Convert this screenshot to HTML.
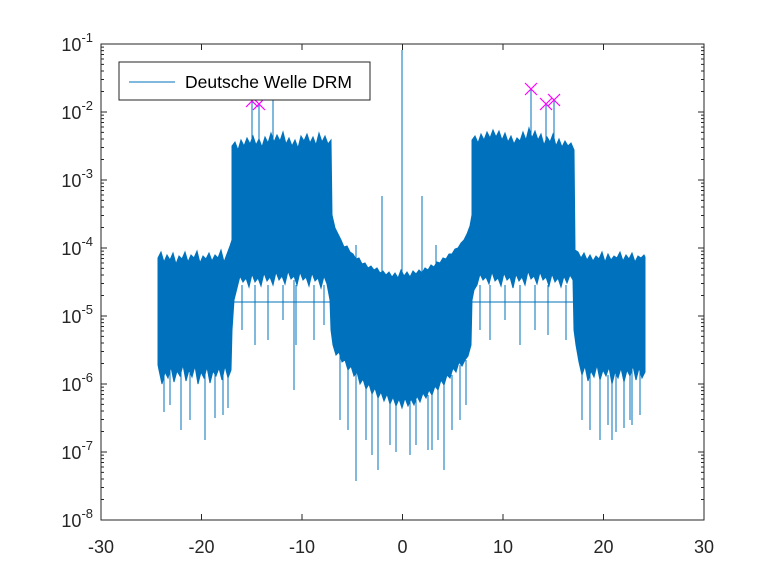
<!DOCTYPE html>
<html><head><meta charset="utf-8"><style>
html,body{margin:0;padding:0;background:#fff;width:778px;height:583px;overflow:hidden}
svg{display:block}
text{font-family:"Liberation Sans",sans-serif;fill:#262626}
</style></head><body>
<svg width="778" height="583" xmlns="http://www.w3.org/2000/svg">
<rect x="0" y="0" width="778" height="583" fill="#fff"/>
<polygon fill="#0072BD" stroke="#0072BD" stroke-width="1" points="
158,258 161,252 164,262 167,255 170,260 173,253 176,264 179,256 182,259 185,252 188,262 191,255 194,258 197,251 200,263 203,256 206,259 209,253 212,261 215,255 218,258 221,250 224,262 227,254 230,246 232,240
232,146 235,142 238,150 241,140 244,146 247,138 250,144 253,136 256,145 259,139 262,147 265,137 268,143 271,133 274,142 277,135 280,141 283,132 286,144 289,138 292,146 295,140 298,148 301,136 304,141 307,134 310,143 313,137 316,145 319,133 322,142 325,136 328,144 331,140
332,215 335,228 338,234 341,240 344,247 347,246 350,252 353,254 356,259 359,258 362,264 365,263 368,268 371,266 374,270 377,268 380,273 383,271 386,275 389,272 392,277 395,273 398,278 401,270 404,276 407,272 410,277 413,271 416,274 419,270 422,273 425,268 428,270 431,265 434,267 437,262 440,263 443,258 446,259 449,254 452,254 455,249 458,248 461,243 464,240 467,234 470,226 472,215
472,140 475,136 478,143 481,134 484,140 487,132 490,138 493,130 496,137 499,131 502,140 505,133 508,142 511,136 514,144 517,138 520,141 523,132 526,140 529,128 532,138 535,131 538,140 541,134 544,145 547,137 550,142 553,134 556,146 559,139 562,147 565,141 568,146 571,143 574,150
575,250 578,252 581,258 584,253 587,260 590,255 593,261 596,256 599,259 602,252 605,262 608,254 611,260 614,256 617,258 620,252 623,261 626,255 629,259 632,253 635,262 638,256 641,258 644,255 645,257
645,372 642,378 639,368 636,380 633,366 630,376 627,370 624,382 621,368 618,378 615,372 612,384 609,367 606,376 603,370 600,380 597,365 594,377 591,371 588,381 585,366 582,375 579,362 576,345 574,330
573,280 570,275 567,283 564,276 561,287 558,278 555,282 552,274 549,286 546,277 543,280 540,272 537,284 534,276 531,279 528,271 525,285 522,277 519,281 516,274 513,288 510,277 507,280 504,273 501,286 498,278 495,281 492,272 489,284 486,277 483,280 480,274 477,285 474,290 472,300
471,345 468,356 465,360 462,366 459,362 456,372 453,368 450,378 447,375 444,385 441,380 438,390 435,386 432,395 429,390 426,398 423,393 420,402 417,396 414,405 411,399 408,406 405,398 402,408 399,399 396,406 393,397 390,404 387,394 384,401 381,392 378,398 375,388 372,394 369,384 366,389 363,379 360,384 357,372 354,376 351,366 348,370 345,360 342,362 339,352 336,355 333,345 331,330
330,300 327,284 324,276 321,288 318,278 315,281 312,273 309,286 306,277 303,280 300,272 297,285 294,276 291,279 288,271 285,284 282,276 279,280 276,272 273,285 270,277 267,281 264,273 261,286 258,278 255,282 252,274 249,287 246,278 243,282 240,276 237,288 234,300 232,330
231,370 228,378 225,366 222,380 219,368 216,376 213,371 210,383 207,367 204,378 201,372 198,384 195,366 192,377 189,370 186,381 183,365 180,376 177,371 174,382 171,367 168,378 165,372 162,384 159,370 158,365"/>
<path fill="none" stroke="#0072BD" stroke-width="1" d="
M402 50V300 M252 101V150 M259 104V150 M273 100V150 M531 89V140 M546 104V140 M554 100V140 M382 196V280 M422 196V280 M436 245V270 M356 245V270
M356 350V481 M205 370V440 M294 280V390 M600 370V440 M378 390V470 M444 380V470 M432 390V450 M640 370V415 M164 370V412 M170 370V405 M181 370V430 M190 370V420 M215 370V418 M223 370V415 M228 370V408
M242 285V330 M255 285V345 M268 285V340 M283 285V320 M296 285V345 M314 285V340 M324 285V325 M480 285V330 M490 285V340 M505 285V320 M520 285V345 M535 285V330 M548 285V335 M566 285V340
M340 355V420 M348 365V430 M366 385V440 M372 390V455 M390 400V445 M396 400V452 M410 400V455 M416 400V445 M428 395V450 M438 390V440 M452 375V430 M460 365V420 M466 360V405
M582 370V420 M590 370V430 M608 375V425 M616 370V432 M624 375V428 M632 370V425 M612 370V440 M630 370V420
M158 302H645"/>
<path fill="none" stroke="#FF00FF" stroke-width="1.2" d="M246 95L258 107M246 107L258 95 M253 98L265 110M253 110L265 98 M525 83L537 95M525 95L537 83 M540 98L552 110M540 110L552 98 M548 94L560 106M548 106L560 94"/>
<rect x="101" y="44" width="603" height="476" fill="none" stroke="#262626" stroke-width="1"/>
<g stroke="#262626" stroke-width="1">
<path d="M101 520V514M201.5 520V514M302 520V514M402.5 520V514M503 520V514M603.5 520V514M704 520V514 M101 44V50M201.5 44V50M302 44V50M402.5 44V50M503 44V50M603.5 44V50M704 44V50"/>
<path d="M101 44H107M101 112H107M101 180H107M101 248H107M101 316H107M101 384H107M101 452H107M101 520H107 M704 44H698M704 112H698M704 180H698M704 248H698M704 316H698M704 384H698M704 452H698M704 520H698"/>
<path id="minor" d="M101 91.5H104M101 79.5H104M101 71H104M101 64.4H104M101 59H104M101 54.5H104M101 50.6H104M101 47.1H104 M704 91.5H701M704 79.5H701M704 71H701M704 64.4H701M704 59H701M704 54.5H701M704 50.6H701M704 47.1H701"/>
<use href="#minor" y="68"/><use href="#minor" y="136"/><use href="#minor" y="204"/><use href="#minor" y="272"/><use href="#minor" y="340"/><use href="#minor" y="408"/>
</g>
<g font-size="18" text-anchor="middle">
<text x="101" y="553">-30</text><text x="201.5" y="553">-20</text><text x="302" y="553">-10</text><text x="402.5" y="553">0</text><text x="503" y="553">10</text><text x="603.5" y="553">20</text><text x="704" y="553">30</text>
</g>
<g font-size="18" text-anchor="end">
<text x="93" y="51">10<tspan dy="-9" font-size="13">-1</tspan></text>
<text x="93" y="119">10<tspan dy="-9" font-size="13">-2</tspan></text>
<text x="93" y="187">10<tspan dy="-9" font-size="13">-3</tspan></text>
<text x="93" y="255">10<tspan dy="-9" font-size="13">-4</tspan></text>
<text x="93" y="323">10<tspan dy="-9" font-size="13">-5</tspan></text>
<text x="93" y="391">10<tspan dy="-9" font-size="13">-6</tspan></text>
<text x="93" y="459">10<tspan dy="-9" font-size="13">-7</tspan></text>
<text x="93" y="527">10<tspan dy="-9" font-size="13">-8</tspan></text>
</g>
<rect x="119" y="62" width="251" height="38" fill="#fff" stroke="#262626" stroke-width="1"/>
<line x1="129" y1="82" x2="175" y2="82" stroke="#0072BD" stroke-width="1"/>
<text x="185" y="88" font-size="17.5" style="fill:#000">Deutsche Welle DRM</text>
</svg>
</body></html>
